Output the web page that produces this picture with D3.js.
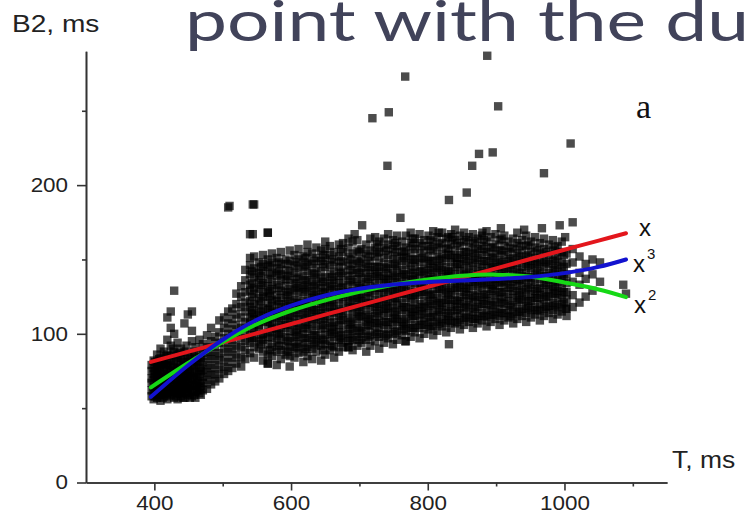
<!DOCTYPE html>
<html>
<head>
<meta charset="utf-8">
<script src="https://cdn.jsdelivr.net/npm/d3@7"></script>
<style>
  body { margin: 0; background: #fff; }
  svg { display: block; }
</style>
</head>
<body>
<script>
const svgWidth = 753
const svgHeight = 520

// fitted curves
const fitT = [395, 450, 500, 550, 600, 650, 700, 750, 800, 850, 900, 950, 1000, 1050, 1090]
const linearFit = [81.1, 88.0, 94.2, 100.4, 106.6, 112.9, 119.1, 125.3, 131.6, 137.8, 144.0, 150.3, 156.5, 162.7, 167.6]
const quadFit = [64, 80.5, 94.5, 106.5, 115.5, 122.5, 128.3, 133, 136.5, 139, 139.8, 138.5, 134.5, 129.8, 124.7]
const cubicFit = [57.6, 79, 96, 109.5, 119, 125.8, 130.3, 133.2, 134.8, 135.8, 136.8, 138.2, 140.8, 145, 150]

// scatter, stored column by column (T value, list of B2 values)
const cloudT = [396, 399, 404, 409, 414, 419, 424, 429, 434, 439, 444, 449, 455, 460, 466, 471,
  477, 483, 489, 495, 502, 508, 514, 520, 527, 533,
  540, 546, 553, 559, 566, 572, 579, 585, 592, 598, 605, 611, 618, 624, 631, 637, 644, 650, 657, 663,
  670, 676, 684, 690, 697, 703, 710, 716, 723, 729, 736, 742, 749, 755, 762, 768, 775, 781, 788, 795,
  801, 808, 814, 821, 827, 834, 840, 847, 853, 860, 866, 873, 879, 886, 892, 899, 905, 912, 918, 925,
  931, 938, 944, 951, 957, 964, 970, 977, 983, 990, 996, 1003, 1012, 1022, 1031, 1041, 1052]
const cloudB2 = [
  [58, 62, 67, 70, 75, 79],
  [56, 60, 64, 69, 73, 77, 82],
  [57, 61, 66, 68, 72, 76, 80, 86],
  [55, 59, 63, 67, 71, 74, 79, 84, 90],
  [58, 62, 65, 70, 73, 78, 82, 88],
  [56, 60, 64, 68, 72, 76, 80, 86, 96, 111],
  [59, 63, 66, 71, 74, 79, 85, 92, 104, 115],
  [57, 61, 65, 69, 73, 77, 82, 88, 100, 129],
  [56, 60, 64, 68, 72, 76, 81, 86, 94],
  [58, 62, 66, 70, 74, 79, 84, 90],
  [57, 61, 65, 69, 73, 78, 83, 88, 107],
  [59, 63, 67, 72, 76, 81, 86, 113],
  [58, 62, 66, 70, 75, 80, 85, 95, 102, 115],
  [57, 61, 65, 69, 74, 79, 84, 91],
  [60, 64, 68, 73, 77, 82, 88, 96],
  [62, 67, 71, 76, 81, 87, 93],
  [63, 69, 74, 79, 85, 91, 99],
  [66, 72, 77, 83, 88, 95, 104],
  [68, 73, 79, 85, 91, 98],
  [70, 76, 82, 87, 94, 101, 109],
  [73, 78, 84, 90, 97, 104, 111],
  [75, 81, 88, 94, 100, 107, 115, 185],
  [77, 84, 90, 96, 103, 110, 117],
  [80, 86, 92, 99, 106, 113, 120, 127],
  [78, 84, 91, 97, 104, 111, 118, 125, 132],
  [83, 89, 95, 101, 108, 115, 121, 128, 136, 143],
  [87, 94, 99, 107, 111, 118, 122, 129, 133, 140, 146, 151, 167],
  [84, 91, 97, 102, 110, 114, 120, 127, 131, 138, 144, 152, 187],
  [90, 95, 103, 106, 113, 119, 124, 130, 136, 141, 148],
  [82, 88, 96, 100, 108, 112, 117, 125, 128, 134, 142, 147, 153],
  [80, 86, 93, 98, 105, 110, 116, 121, 127, 132, 137, 145, 150, 168],
  [85, 91, 97, 103, 107, 114, 119, 123, 130, 135, 141, 148, 154],
  [79, 88, 94, 99, 104, 111, 115, 122, 126, 133, 139, 144, 151],
  [83, 89, 96, 101, 106, 112, 118, 124, 129, 136, 140, 147, 155],
  [86, 92, 98, 104, 109, 115, 120, 126, 132, 137, 143, 150],
  [78, 85, 91, 97, 102, 108, 113, 119, 125, 130, 136, 142, 149, 156],
  [84, 90, 95, 101, 107, 112, 118, 123, 129, 134, 141, 146, 153],
  [87, 93, 99, 105, 110, 116, 121, 127, 132, 138, 144, 150, 157],
  [81, 88, 94, 100, 104, 111, 117, 122, 128, 133, 139, 145, 152],
  [85, 91, 97, 103, 108, 114, 119, 125, 131, 136, 142, 148, 155, 160],
  [83, 90, 96, 102, 107, 113, 118, 124, 129, 135, 141, 147, 154],
  [88, 94, 99, 105, 111, 116, 122, 127, 133, 138, 144, 151, 158],
  [82, 92, 97, 103, 109, 114, 120, 125, 131, 137, 142, 149, 156],
  [86, 93, 99, 104, 110, 115, 121, 127, 132, 138, 145, 151, 157, 162],
  [89, 95, 101, 107, 112, 118, 123, 129, 134, 140, 146, 153, 159],
  [84, 91, 98, 103, 108, 114, 119, 125, 130, 136, 142, 148, 155],
  [88, 96, 101, 106, 112, 117, 123, 128, 134, 139, 145, 152, 160],
  [91, 97, 103, 109, 114, 120, 125, 131, 136, 142, 148, 155, 161],
  [91, 95, 100, 106, 111, 117, 122, 128, 133, 139, 146, 152, 158, 164],
  [89, 96, 102, 107, 113, 118, 124, 129, 135, 141, 147, 154, 162],
  [92, 98, 104, 110, 115, 121, 126, 132, 137, 143, 149, 156, 163],
  [94, 100, 105, 111, 116, 122, 127, 133, 138, 144, 150, 157],
  [88, 96, 102, 108, 113, 119, 124, 130, 135, 141, 147, 154, 160],
  [92, 99, 105, 110, 116, 121, 127, 132, 138, 143, 149, 156, 164],
  [95, 101, 107, 112, 118, 123, 129, 134, 140, 145, 152, 158, 165],
  [90, 98, 104, 109, 115, 120, 126, 131, 137, 142, 148, 155, 162],
  [94, 100, 106, 112, 117, 123, 128, 134, 139, 145, 151, 158, 164],
  [97, 103, 108, 114, 119, 125, 130, 136, 141, 147, 153, 160, 167],
  [93, 100, 106, 111, 117, 122, 128, 133, 139, 144, 150, 157, 163],
  [96, 102, 108, 113, 119, 124, 130, 135, 141, 146, 152, 159, 166],
  [99, 105, 110, 116, 121, 127, 132, 138, 143, 149, 155, 162],
  [95, 102, 107, 113, 118, 124, 129, 135, 140, 146, 152, 158, 166],
  [98, 104, 110, 115, 121, 126, 132, 137, 143, 148, 154, 161, 168],
  [101, 106, 112, 117, 123, 128, 134, 139, 145, 150, 157, 164],
  [97, 104, 109, 115, 120, 126, 131, 137, 142, 148, 154, 161, 167],
  [100, 106, 111, 117, 122, 128, 133, 139, 144, 150, 156, 163],
  [103, 108, 114, 119, 125, 130, 136, 141, 147, 152, 159, 166],
  [99, 105, 111, 116, 122, 127, 133, 138, 144, 149, 156, 162, 169],
  [102, 108, 113, 119, 124, 130, 135, 141, 146, 152, 158, 165],
  [105, 110, 116, 121, 127, 132, 138, 143, 149, 154, 161, 168],
  [101, 107, 112, 118, 123, 129, 134, 140, 145, 151, 157, 164],
  [104, 109, 115, 120, 126, 131, 137, 142, 148, 153, 160, 167],
  [107, 112, 118, 123, 129, 134, 140, 145, 151, 156, 163, 170],
  [103, 109, 114, 120, 125, 131, 136, 142, 147, 153, 159, 166],
  [106, 111, 117, 122, 128, 133, 139, 144, 150, 155, 162, 168],
  [108, 113, 119, 124, 130, 135, 141, 146, 152, 158, 165],
  [104, 110, 115, 121, 126, 132, 137, 143, 148, 154, 161, 167],
  [107, 112, 118, 123, 129, 134, 140, 145, 151, 157, 164],
  [109, 114, 120, 125, 131, 136, 142, 147, 153, 159, 166],
  [105, 111, 116, 122, 127, 133, 138, 144, 149, 155, 162, 169],
  [108, 113, 119, 124, 130, 135, 141, 146, 152, 158, 165],
  [110, 115, 121, 126, 132, 137, 143, 148, 154, 160, 167],
  [106, 112, 117, 123, 128, 134, 139, 145, 150, 156, 163],
  [109, 114, 120, 125, 131, 136, 142, 147, 153, 159, 166],
  [111, 116, 122, 127, 133, 138, 144, 149, 155, 162],
  [107, 113, 118, 124, 129, 135, 140, 146, 151, 157, 164],
  [110, 115, 121, 126, 132, 137, 143, 148, 154, 161, 168],
  [112, 117, 123, 128, 134, 139, 145, 150, 156, 163],
  [108, 114, 119, 125, 130, 136, 141, 147, 152, 159, 166],
  [111, 116, 122, 127, 133, 138, 144, 149, 155, 162],
  [113, 118, 124, 129, 135, 140, 146, 151, 158, 165],
  [109, 115, 120, 126, 131, 137, 142, 148, 154, 161],
  [112, 117, 123, 128, 134, 139, 145, 150, 157, 164],
  [114, 119, 125, 130, 136, 141, 147, 153, 160],
  [110, 116, 121, 127, 132, 138, 143, 149, 156, 163],
  [113, 118, 124, 129, 135, 140, 146, 152, 159],
  [115, 120, 126, 131, 137, 142, 148, 155, 162],
  [112, 117, 123, 128, 134, 140, 147, 154],
  [118, 126, 135, 148, 157],
  [121, 133, 141, 152],
  [125, 137, 147],
  [129, 140, 150],
  [135, 148]
]

// second pass of columns, in between the first ones (dense core)
const coreT = [401, 407, 412, 417, 422, 427, 432, 437, 442, 447, 452, 458, 463, 468,
  543, 556, 569, 582, 595, 608, 621, 634, 647, 660, 673, 687, 700, 713, 726, 739, 752, 765,
  778, 791, 804, 817, 830, 843, 856, 869, 882, 895, 908, 921, 934, 947, 960, 973, 986, 999]
const coreB2 = [
  [58, 63, 71, 75, 81],
  [59, 64, 70, 77, 83],
  [57, 61, 66, 73, 80],
  [60, 67, 71, 79, 85],
  [58, 62, 69, 75, 82],
  [61, 65, 72, 78, 90],
  [58, 63, 70, 75, 84],
  [60, 66, 71, 77, 87],
  [57, 63, 68, 75, 81],
  [60, 65, 71, 78, 92],
  [57, 64, 70, 74, 83],
  [59, 65, 72, 78, 88],
  [62, 67, 71, 81],
  [59, 65, 75, 84],
  [97, 104, 113, 116, 125, 134, 142],
  [93, 99, 109, 115, 122, 133, 139, 145],
  [89, 101, 108, 117, 125, 129, 140, 146],
  [92, 100, 109, 114, 120, 131, 142, 148],
  [88, 95, 106, 112, 122, 128, 139, 147],
  [91, 98, 103, 114, 121, 131, 137, 148],
  [90, 97, 106, 113, 119, 130, 136, 146, 151],
  [93, 99, 110, 116, 126, 132, 140, 149],
  [89, 96, 106, 112, 118, 128, 135, 147, 153],
  [92, 100, 105, 115, 121, 132, 138, 150],
  [94, 99, 109, 115, 126, 131, 141, 149, 157],
  [97, 103, 108, 119, 125, 136, 143, 150],
  [96, 102, 112, 118, 124, 131, 141, 148, 155],
  [98, 106, 111, 121, 128, 137, 145, 152],
  [100, 107, 114, 120, 131, 139, 145, 154, 160],
  [99, 108, 117, 122, 131, 137, 144, 156],
  [101, 110, 115, 124, 129, 138, 147, 155, 161],
  [103, 108, 118, 127, 133, 140, 151, 156],
  [104, 112, 117, 126, 136, 141, 150, 159, 164],
  [106, 113, 118, 128, 133, 142, 151, 159],
  [105, 111, 120, 126, 137, 143, 149, 157, 163],
  [107, 115, 121, 130, 136, 144, 150, 160],
  [109, 114, 123, 128, 139, 142, 153, 158, 165],
  [108, 116, 122, 131, 137, 147, 151, 161],
  [111, 118, 126, 131, 140, 149, 155, 163],
  [110, 117, 125, 135, 138, 150, 156, 162],
  [112, 120, 126, 134, 141, 149, 157, 163],
  [113, 119, 129, 133, 145, 151, 158],
  [114, 121, 128, 135, 142, 148, 156, 164],
  [112, 119, 131, 137, 144, 150, 158],
  [115, 123, 129, 136, 141, 152, 159],
  [117, 122, 131, 138, 146, 153, 160],
  [116, 124, 130, 141, 147, 156],
  [118, 125, 133, 139, 148, 155],
  [119, 127, 132, 144, 150, 158],
  [121, 128, 137, 145, 153]
]

// isolated points away from the cloud
const outlierT = [887, 767, 743, 719, 903, 1009, 875, 895, 865, 970, 741, 857, 831, 760, 1012, 993, 967, 907,
  941, 1001, 510, 544, 544, 566, 704, 693, 816, 836, 880, 684, 566, 767, 831, 1086, 1090, 1002]
const outlierB2 = [287, 273, 249, 245, 253, 228, 221, 222, 213, 208, 213, 195, 190, 178, 175, 173, 171, 171,
  170, 165, 186, 187, 167, 168, 173, 167, 168, 165, 168, 91, 80, 95, 93, 133, 127, 117]

const points = []
cloudT.forEach((t, i) => cloudB2[i].forEach(b => points.push({ t: t, b: b })))
coreT.forEach((t, i) => coreB2[i].forEach(b => points.push({ t: t, b: b })))
outlierT.forEach((t, i) => points.push({ t: t, b: outlierB2[i] }))

const svg = d3.select("body").append("svg")
  .attr("width", svgWidth)
  .attr("height", svgHeight)

const x = d3.scaleLinear().domain([300, 1150]).range([86, 667])
const y = d3.scaleLinear().domain([0, 290]).range([482.5, 51.3])

const axisColor = "#333"
const font = "'Liberation Sans', Arial, sans-serif"

// stretch text horizontally a bit, the source figure is wider than Arial
function stretch(sel, k) {
  sel.each(function () {
    const w = this.getComputedTextLength()
    d3.select(this).attr("textLength", w * k).attr("lengthAdjust", "spacingAndGlyphs")
  })
}

// slide title, runs to the right edge
svg.append("text")
  .attr("x", 185)
  .attr("y", 41)
  .attr("font-family", "Lato, 'Open Sans', sans-serif")
  .attr("font-size", 56)
  .attr("fill", "#41435a")
  .attr("textLength", 564)
  .attr("lengthAdjust", "spacingAndGlyphs")
  .text("point with the du")

// points
svg.append("g")
  .selectAll("rect")
  .data(points)
  .enter()
  .append("rect")
  .attr("x", d => x(d.t) - 4.2)
  .attr("y", d => y(d.b) - 4.2)
  .attr("width", 8.4)
  .attr("height", 8.4)
  .attr("fill", "#000")
  .attr("fill-opacity", 0.7)

// fitted curves
const line = d3.line()
  .x((d, i) => x(fitT[i]))
  .y(d => y(d))
  .curve(d3.curveCatmullRom)

const fits = [
  { vals: linearFit, color: "#e3161c" },
  { vals: quadFit, color: "#16d816" },
  { vals: cubicFit, color: "#1212cf" }
]
svg.append("g")
  .selectAll("path")
  .data(fits)
  .enter()
  .append("path")
  .attr("d", d => line(d.vals))
  .attr("fill", "none")
  .attr("stroke", d => d.color)
  .attr("stroke-width", 4)
  .attr("stroke-linecap", "round")

// axes
const yAxisG = svg.append("g").attr("transform", `translate(${x.range()[0]},0)`)
yAxisG.call(d3.axisLeft(y).tickValues([50, 150, 250]).tickSize(4).tickSizeOuter(0).tickFormat(""))
yAxisG.append("g").call(d3.axisLeft(y).tickValues([0, 100, 200]).tickSize(9).tickSizeOuter(0).tickPadding(9).tickFormat(d3.format("d")))

const xAxisG = svg.append("g").attr("transform", `translate(0,${y(0)})`)
xAxisG.call(d3.axisBottom(x).tickValues([500, 700, 900, 1100]).tickSize(4).tickSizeOuter(0).tickFormat(""))
xAxisG.append("g").call(d3.axisBottom(x).tickValues([400, 600, 800, 1000]).tickSize(8).tickSizeOuter(0).tickPadding(5).tickFormat(d3.format("d")))

svg.selectAll(".domain, .tick line").attr("stroke", axisColor).attr("stroke-width", 1.6)
svg.selectAll(".tick text")
  .attr("font-family", font)
  .attr("font-size", 20)
  .attr("fill", "#222")
stretch(svg.selectAll(".tick text"), 1.12)

// axis titles
const yTitle = svg.append("text")
  .attr("x", 12)
  .attr("y", 32)
  .attr("font-family", font)
  .attr("font-size", 23)
  .attr("fill", "#222")
  .text("B2, ms")
stretch(yTitle, 1.22)

const xTitle = svg.append("text")
  .attr("x", 672)
  .attr("y", 468)
  .attr("font-family", font)
  .attr("font-size", 23)
  .attr("fill", "#222")
  .text("T, ms")
stretch(xTitle, 1.15)

// panel letter
svg.append("text")
  .attr("x", 636)
  .attr("y", 118)
  .attr("font-family", "'Liberation Serif', 'Times New Roman', serif")
  .attr("font-size", 34)
  .attr("fill", "#111")
  .text("a")

// curve labels
const labels = [
  { t: "x", sup: "", lx: 639, ly: 236 },
  { t: "x", sup: "3", lx: 633, ly: 272 },
  { t: "x", sup: "2", lx: 634, ly: 313 }
]
labels.forEach(l => {
  svg.append("text")
    .attr("x", l.lx)
    .attr("y", l.ly)
    .attr("font-family", font)
    .attr("font-size", 24)
    .attr("fill", "#111")
    .text(l.t)
  if (l.sup) {
    svg.append("text")
      .attr("x", l.lx + 14)
      .attr("y", l.ly - 13)
      .attr("font-family", font)
      .attr("font-size", 15)
      .attr("fill", "#111")
      .text(l.sup)
  }
})
</script>
</body>
</html>
